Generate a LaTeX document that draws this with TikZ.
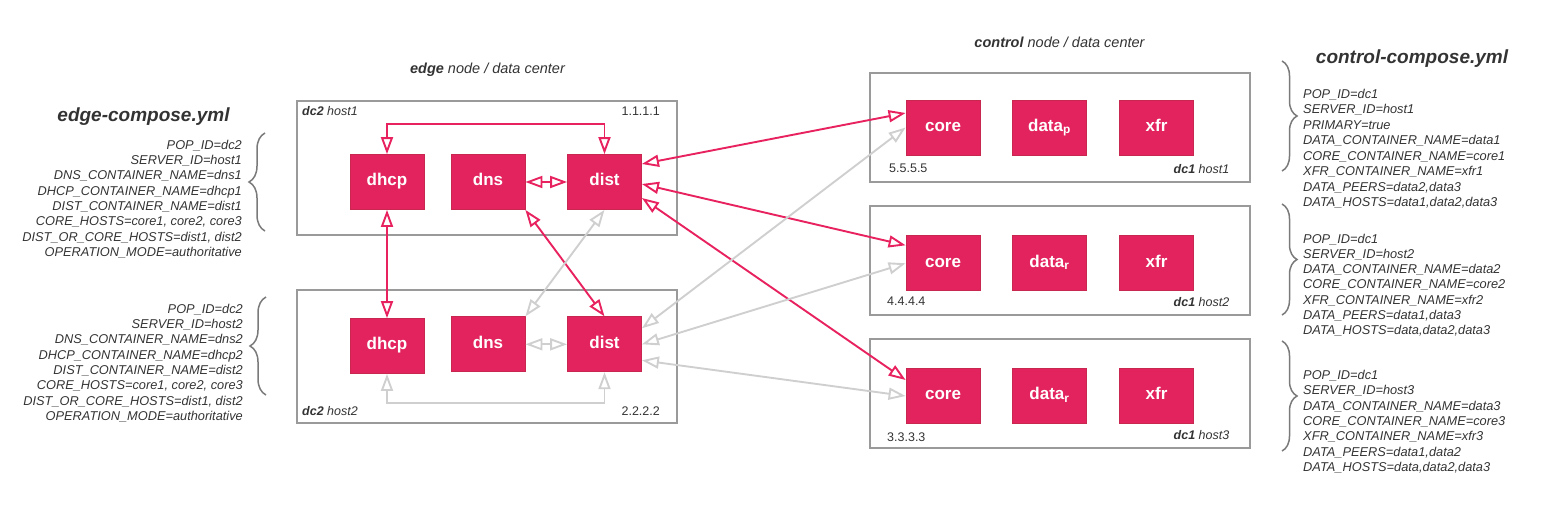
\documentclass[tikz,border=0pt]{standalone}
\usepackage{fontspec}
\setmainfont{Liberation Sans}
\usetikzlibrary{arrows.meta, positioning, decorations.pathreplacing}

\definecolor{svcfill}{HTML}{E3235E}
\definecolor{svcedge}{HTML}{C8284F}
\definecolor{linkpink}{HTML}{E8215F}
\definecolor{linkgray}{HTML}{CFCFCF}
\definecolor{boxgray}{HTML}{9A9A9A}
\definecolor{txtgray}{HTML}{333333}
\definecolor{bracegray}{HTML}{7A7A7A}

\tikzset{
  svc/.style={draw=svcedge, line width=0.8pt, fill=svcfill, minimum width=74pt, minimum height=55pt, inner sep=0pt, text height=11.5pt, text depth=4pt, text=white, font=\fontsize{17}{20}\selectfont\bfseries},
  hostbox/.style={draw=boxgray, line width=1.2pt},
  link/.style={draw=linkpink, line width=1.9pt, {Triangle[open, length=17pt, width=12pt]}-{Triangle[open, length=17pt, width=12pt]}},
  idle/.style={link, draw=linkgray},
  envline/.style={font=\fontsize{12.8}{15}\selectfont\itshape, text=txtgray, inner sep=0pt},
  hostip/.style={font=\fontsize{12.5}{15}\selectfont, text=txtgray, inner sep=0pt},
  hostname/.style={hostip, font=\fontsize{12.5}{15}\selectfont\itshape},
  yamltitle/.style={font=\fontsize{19}{22}\selectfont\bfseries\itshape, text=txtgray, inner sep=0pt, anchor=base},
  grouptitle/.style={font=\fontsize{14.5}{17}\selectfont\itshape, text=txtgray, inner sep=0pt, anchor=base},
  envbrace/.style={draw=bracegray, line width=1.5pt, decorate, decoration={brace, amplitude=16pt}},
}

\begin{document}
\begin{tikzpicture}[x=1pt, y=-1pt]
\useasboundingbox (0,0) rectangle (1553,525);

\draw [hostbox] (297,101) rectangle (677,235);
\draw [hostbox] (297,290) rectangle (677,423);
\draw [hostbox] (870,73) rectangle (1250,182);
\draw [hostbox] (870,206) rectangle (1250,315);
\draw [hostbox] (870,339) rectangle (1250,448);

\node (edgetitle) at (487.5,73) [grouptitle] {\textbf{edge} node / data center};
\node (controltitle) at (1059.5,47.3) [grouptitle] {\textbf{control} node / data center};
\node (edgeyml) at (143.5,121) [yamltitle] {edge-compose.yml};
\node (controlyml) at (1412,63.3) [yamltitle] {control-compose.yml};

\node (host1name) at (302,115.7) [hostname, anchor=base west] {\textbf{dc2} host1};
\node (host1ip) at (660,115) [hostip, anchor=base east] {1.1.1.1};
\node (host2name) at (302,415) [hostname, anchor=base west] {\textbf{dc2} host2};
\node (host2ip) at (660,415) [hostip, anchor=base east] {2.2.2.2};
\node (ctrl1ip) at (889,172.7) [hostip, anchor=base west] {5.5.5.5};
\node (ctrl1name) at (1229.5,173) [hostname, anchor=base east] {\textbf{dc1} host1};
\node (ctrl2ip) at (887,305) [hostip, anchor=base west] {4.4.4.4};
\node (ctrl2name) at (1229.5,306) [hostname, anchor=base east] {\textbf{dc1} host2};
\node (ctrl3ip) at (887,441) [hostip, anchor=base west] {3.3.3.3};
\node (ctrl3name) at (1229.5,439.5) [hostname, anchor=base east] {\textbf{dc1} host3};

\node (dhcp1) at (387,182) [svc] {dhcp};
\node (dns1) at (488,182) [svc] {dns};
\node (dist1) at (604.5,182) [svc] {dist};
\node (dhcp2) at (387,346) [svc] {dhcp};
\node (dns2) at (488,344.3) [svc] {dns};
\node (dist2) at (604.5,344.3) [svc] {dist};

\foreach \row/\y/\sub in {1/127.5/p, 2/263.3/r, 3/396/r} {
  \node (core\row) at (943,\y) [svc] {core};
  \node (data\row) at (1049.5,\y) [svc] {data\textsubscript{\sub}};
  \node (xfr\row) at (1156.5,\y) [svc] {xfr};
}

\coordinate (topbus) at (0,124.3);
\coordinate (botbus) at (0,402.7);

\draw [link] (dhcp1.north) -- (dhcp1.north |- topbus) -- (dist1.north |- topbus) -- (dist1.north);
\draw [link] (dns1.east) -- (dist1.west);
\draw [link] (dhcp1.south) -- (dhcp2.north);
\draw [link] (dns1.south east) -- (dist2.north);
\draw [link] ([yshift=18pt]dist1.east) -- ([yshift=14.5pt]core1.west);
\draw [link] ([yshift=-2pt]dist1.east) -- ([yshift=18pt]core2.west);
\draw [link] ([yshift=-16pt]dist1.east) -- ([yshift=16pt]core3.west);

\draw [idle] (dist1.south) -- (dns2.north east);
\draw [idle] (dns2.east) -- (dist2.west);
\draw [idle] (dhcp2.south) -- (dhcp2.south |- botbus) -- (dist2.south |- botbus) -- (dist2.south);
\draw [idle] ([yshift=16pt]dist2.east) -- (core1.west);
\draw [idle] (dist2.east) -- (core2.west);
\draw [idle] ([yshift=-16pt]dist2.east) -- (core3.west);

\foreach \txt [count=\i from 0] in {POP\_ID=dc2, SERVER\_ID=host1, DNS\_CONTAINER\_NAME=dns1, DHCP\_CONTAINER\_NAME=dhcp1, DIST\_CONTAINER\_NAME=dist1, {CORE\_HOSTS=core1, core2, core3}, {DIST\_OR\_CORE\_HOSTS=dist1, dist2}, OPERATION\_MODE=authoritative}
  \node (edgeenvA\i) at (242,{149.3+15.3*\i}) [envline, anchor=base east] {\txt};
\foreach \txt [count=\i from 0] in {POP\_ID=dc2, SERVER\_ID=host2, DNS\_CONTAINER\_NAME=dns2, DHCP\_CONTAINER\_NAME=dhcp2, DIST\_CONTAINER\_NAME=dist2, {CORE\_HOSTS=core1, core2, core3}, {DIST\_OR\_CORE\_HOSTS=dist1, dist2}, OPERATION\_MODE=authoritative}
  \node (edgeenvB\i) at (243,{313+15.37*\i}) [envline, anchor=base east] {\txt};

\foreach \txt [count=\i from 0] in {POP\_ID=dc1, SERVER\_ID=host1, PRIMARY=true, DATA\_CONTAINER\_NAME=data1, CORE\_CONTAINER\_NAME=core1, XFR\_CONTAINER\_NAME=xfr1, {DATA\_PEERS=data2,data3}, {DATA\_HOSTS=data1,data2,data3}}
  \node (ctrlenvA\i) at (1303,{98+15.57*\i}) [envline, anchor=base west] {\txt};
\foreach \txt [count=\i from 0] in {POP\_ID=dc1, SERVER\_ID=host2, DATA\_CONTAINER\_NAME=data2, CORE\_CONTAINER\_NAME=core2, XFR\_CONTAINER\_NAME=xfr2, {DATA\_PEERS=data1,data3}, {DATA\_HOSTS=data,data2,data3}}
  \node (ctrlenvB\i) at (1303,{243+15.3*\i}) [envline, anchor=base west] {\txt};
\foreach \txt [count=\i from 0] in {POP\_ID=dc1, SERVER\_ID=host3, DATA\_CONTAINER\_NAME=data3, CORE\_CONTAINER\_NAME=core3, XFR\_CONTAINER\_NAME=xfr3, {DATA\_PEERS=data1,data2}, {DATA\_HOSTS=data,data2,data3}}
  \node (ctrlenvC\i) at (1303,{379.6+15.3*\i}) [envline, anchor=base west] {\txt};

\draw [envbrace] (265,231) -- (265,133);
\draw [envbrace] (266,395) -- (266,297);
\draw [envbrace, decoration={amplitude=15pt}] (1282,61) -- (1282,171);
\draw [envbrace, decoration={amplitude=15pt}] (1282,204) -- (1282,315);
\draw [envbrace, decoration={amplitude=15pt}] (1282,341) -- (1282,451);
\end{tikzpicture}
\end{document}
